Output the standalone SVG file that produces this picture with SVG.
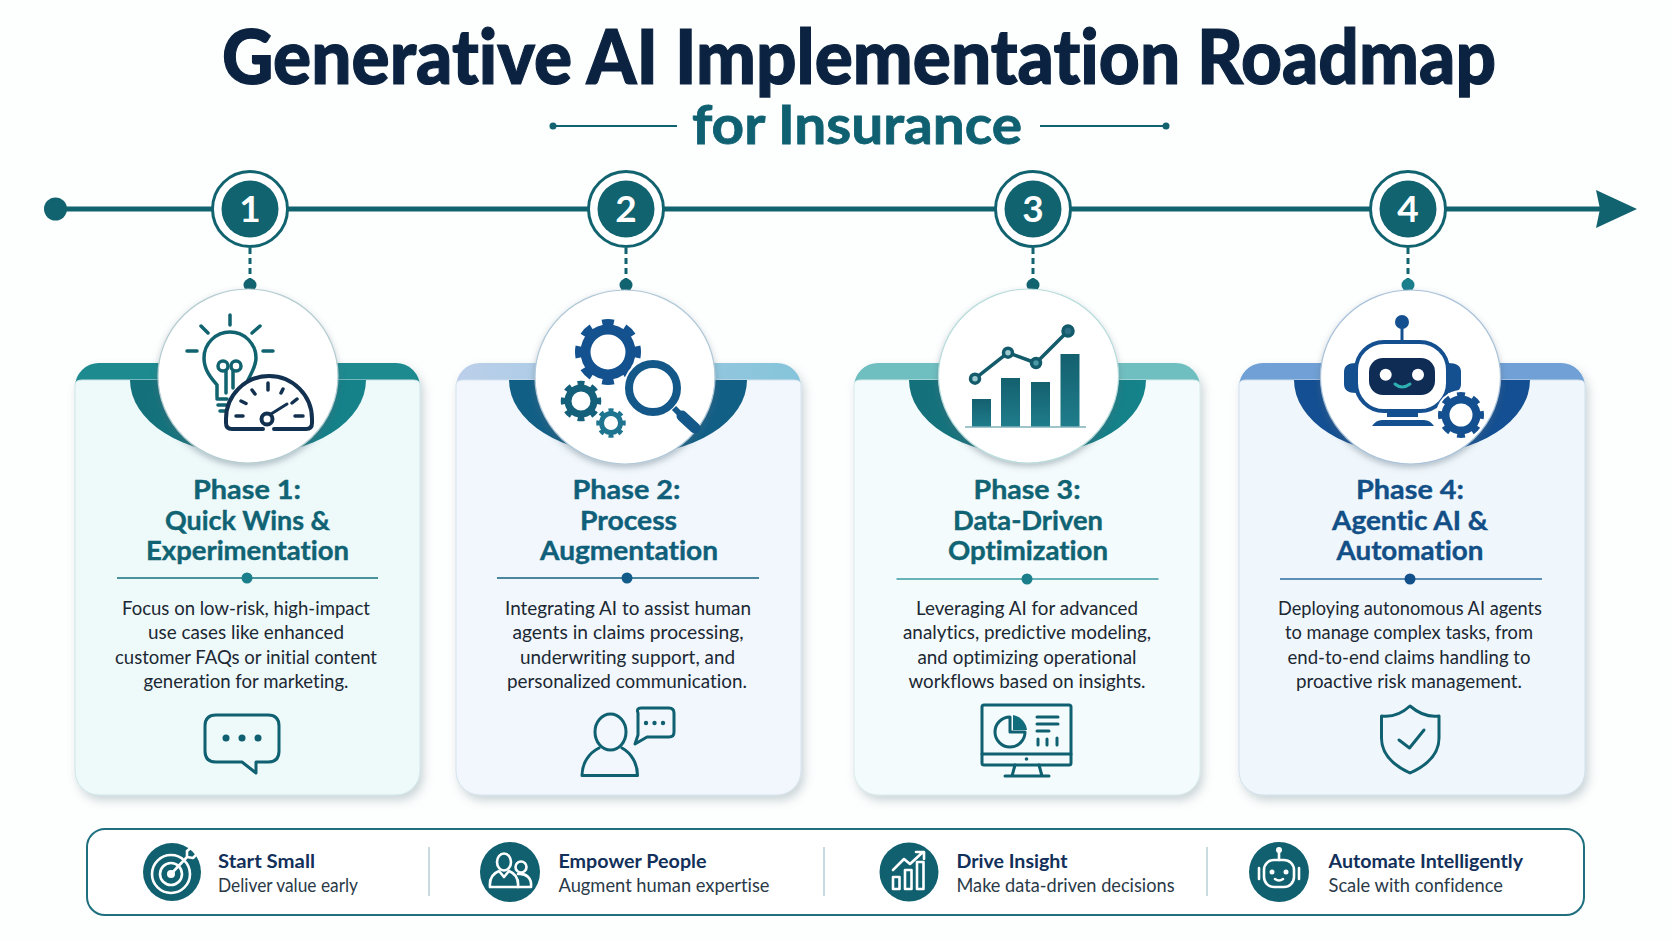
<svg xmlns="http://www.w3.org/2000/svg" width="1672" height="941" viewBox="0 0 1672 941">
<style>
text{font-family:"Lato","Liberation Sans",sans-serif;font-variant-ligatures:none}
.t{font-size:76px;font-weight:900;fill:#0b2340;stroke:#0b2340;stroke-width:1.200px;text-anchor:middle}
.st{font-size:54px;font-weight:700;fill:#0f6071;stroke:#0f6071;stroke-width:.8px;text-anchor:middle}
.n{font-size:37px;font-weight:700;fill:#fff;text-anchor:middle}
.h{font-size:27px;font-weight:700;stroke-width:.4px;text-anchor:middle}
.b{font-size:19.5px;fill:#1b2833;text-anchor:middle}
.k{font-size:19.5px;font-weight:700;fill:#12305a}
.s{font-size:19.5px;fill:#2a3a48}
.tl{stroke:#11636f;stroke-width:5;fill:none}
.dash{stroke:#11636f;stroke-width:3;stroke-dasharray:6 4;fill:none}
.ln{fill:none;stroke-linecap:round;stroke-linejoin:round}
.ic{fill:none;stroke:#0f6070;stroke-width:3;stroke-linecap:round;stroke-linejoin:round}
.w{fill:none;stroke:#fff;stroke-width:2.6;stroke-linecap:round;stroke-linejoin:round}
.card{filter:url(#sh)}
.disc{fill:#fff;stroke-width:1.2;filter:url(#sh2)}
.badge{fill:#11606f}
.dv{stroke:#b8ced6;stroke-width:1.5}
</style>
<defs>
<filter id="sh" x="-10%" y="-10%" width="120%" height="120%"><feDropShadow dx="3" dy="5" stdDeviation="5" flood-color="#6d8791" flood-opacity=".35"/></filter>
<filter id="sh2" x="-15%" y="-15%" width="130%" height="130%"><feDropShadow dx="0" dy="3" stdDeviation="3" flood-color="#567" flood-opacity=".4"/></filter>
<linearGradient id="b2" x1="0" x2="1" y1="0" y2="0"><stop offset="0" stop-color="#bccfea"/><stop offset="1" stop-color="#84c4da"/></linearGradient>
<linearGradient id="sw1" x1="0" x2="1" y1="0" y2="0"><stop offset="0" stop-color="#14707a"/><stop offset="1" stop-color="#15838a"/></linearGradient>
<linearGradient id="bar" x1="0" x2="0" y1="0" y2="1"><stop offset="0" stop-color="#14606f"/><stop offset="1" stop-color="#1f7d8b"/></linearGradient>
</defs>
<rect width="1672" height="941" fill="#fdfefe"/>

<g id="title">
<text class="t" x="859" y="84" textLength="1274" lengthAdjust="spacingAndGlyphs">Generative AI Implementation Roadmap</text>
<text class="st" x="857" y="144" textLength="330" lengthAdjust="spacingAndGlyphs">for Insurance</text>
<path d="M555 126H677M1040 126H1166" stroke="#11636f" stroke-width="2" fill="none"/>
<circle cx="553" cy="126" r="3.5" fill="#11636f"/><circle cx="1166" cy="126" r="3.5" fill="#11636f"/>
</g>

<g id="connectors">
<path class="tl" d="M56 209H1600"/>
<circle cx="55.500" cy="209" r="11.500" fill="#11636f"/>
<path d="M1596 190L1637 209L1596 228L1600 209Z" fill="#11636f"/>
<path class="dash" d="M250 248V282M626 248V282M1033 248V282M1408 248V282"/>
<circle cx="250" cy="285" r="6.500" fill="#11636f"/><circle cx="626" cy="285" r="6.500" fill="#11636f"/><circle cx="1033" cy="285" r="6.500" fill="#11636f"/><circle cx="1408" cy="285" r="6.500" fill="#1a7f8c"/>
</g>

<g id="marker-1"><circle cx="250" cy="209" r="37.500" fill="#fff" stroke="#11636f" stroke-width="3"/><circle cx="250" cy="209" r="28.500" fill="#11636f"/><text class="n" x="250" y="222">1</text></g>
<g id="marker-2"><circle cx="626" cy="209" r="37.500" fill="#fff" stroke="#11636f" stroke-width="3"/><circle cx="626" cy="209" r="28.500" fill="#11636f"/><text class="n" x="626" y="222">2</text></g>
<g id="marker-3"><circle cx="1033" cy="209" r="37.500" fill="#fff" stroke="#11636f" stroke-width="3"/><circle cx="1033" cy="209" r="28.500" fill="#11636f"/><text class="n" x="1033" y="222">3</text></g>
<g id="marker-4"><circle cx="1408" cy="209" r="37.500" fill="#fff" stroke="#11636f" stroke-width="3"/><circle cx="1408" cy="209" r="28.500" fill="#11636f"/><text class="n" x="1408" y="222">4</text></g>

<g id="phase-1">
<g class="card"><rect x="75" y="363" width="345" height="60" rx="24" fill="#1a8a8f"/>
<path d="M75 385Q75 380 82 380H413Q420 380 420 385V771A24 24 0 0 1 396 795H99A24 24 0 0 1 75 771Z" fill="#eef9fa" stroke="#cfe6e8"/></g>
<path d="M130 380H366A118 75 0 0 1 130 380Z" fill="url(#sw1)"/>
<ellipse class="disc" cx="248" cy="376" rx="90" ry="87" stroke="#b4ccd0"/>
<g class="ln" stroke="#11636f" stroke-width="3.500">
<path d="M230 315V325M201 326L208 333M260 326L252 333M187 351H197M263 351H273"/>
<path d="M217 397V385C211 378 204 370 204 358A26 26 0 0 1 256 358C256 366 252 372 248 380"/>
<circle cx="223" cy="366" r="5"/><circle cx="236" cy="366" r="5"/><path d="M226 371V393M233 371V388"/>
<path d="M217 399H227M218 405H226M220 411H225"/>
</g>
<path d="M226 428V419A43 43 0 0 1 312 419V428Z" fill="#fff"/>
<g class="ln" stroke="#12304f" stroke-width="4">
<path d="M263 429H232Q226 429 226 423V419A43 43 0 0 1 312 419V423Q312 429 306 429H274"/>
<path stroke-width="3.500" d="M236 416H243M241 401L246 403.500M252 390L255 394M268 383V390M283 389L281 393M297 399L292 403M303 416H295"/>
<circle cx="267" cy="419" r="5.500"/>
<path stroke-width="3" d="M271 414L287 404"/>
</g>
<text class="h" fill="#0f6373" stroke="#0f6373"><tspan x="247" y="499" textLength="108" lengthAdjust="spacingAndGlyphs">Phase 1:</tspan><tspan x="247.500" y="530" textLength="165" lengthAdjust="spacingAndGlyphs">Quick Wins &amp;</tspan><tspan x="247.500" y="560" textLength="203" lengthAdjust="spacingAndGlyphs">Experimentation</tspan></text>
<path d="M117 578H378" stroke="#13707c" stroke-width="1.500"/><circle cx="247" cy="578" r="5.500" fill="#1a7f8a"/>
<text class="b" x="246" y="615" textLength="248" lengthAdjust="spacingAndGlyphs">Focus on low-risk, high-impact</text>
<text class="b" x="246" y="639" textLength="196" lengthAdjust="spacingAndGlyphs">use cases like enhanced</text>
<text class="b" x="246" y="664" textLength="262" lengthAdjust="spacingAndGlyphs">customer FAQs or initial content</text>
<text class="b" x="246" y="688" textLength="205" lengthAdjust="spacingAndGlyphs">generation for marketing.</text>
<path class="ic" d="M216 715H268Q279 715 279 726V751Q279 762 268 762H256V773L242 762H216Q205 762 205 751V726Q205 715 216 715Z"/>
<g fill="#0f6070"><circle cx="226" cy="738" r="3.500"/><circle cx="242" cy="738" r="3.500"/><circle cx="258" cy="738" r="3.500"/></g>
</g>

<g id="phase-2">
<g class="card"><rect x="456" y="363" width="345" height="60" rx="24" fill="url(#b2)"/>
<path d="M456 385Q456 380 463 380H794Q801 380 801 385V771A24 24 0 0 1 777 795H480A24 24 0 0 1 456 771Z" fill="#f1f7fc" stroke="#d5e3ee"/></g>
<path d="M509 380H747A119 75 0 0 1 509 380Z" fill="#125f86"/>
<ellipse class="disc" cx="625" cy="377" rx="90" ry="87" stroke="#b0c8d8"/>
<g fill="none">
<circle cx="608" cy="352" r="22.500" stroke="#14528f" stroke-width="10"/>
<circle cx="608" cy="352" r="29.500" stroke="#14528f" stroke-width="7" pathLength="16" stroke-dasharray="1 1" stroke-dashoffset=".5"/>
<circle cx="581" cy="401" r="13" stroke="#14607a" stroke-width="7"/>
<circle cx="581" cy="401" r="17.500" stroke="#14607a" stroke-width="5.500" pathLength="16" stroke-dasharray="1 1" stroke-dashoffset=".5"/>
<circle cx="611" cy="423" r="9.500" stroke="#1f7590" stroke-width="5"/>
<circle cx="611" cy="423" r="12.500" stroke="#1f7590" stroke-width="4.500" pathLength="16" stroke-dasharray="1 1" stroke-dashoffset=".5"/>
<circle cx="653" cy="388" r="30" fill="#fff"/>
<circle cx="653" cy="388" r="24" fill="#fff" stroke="#14588a" stroke-width="8"/>
<path d="M674 408L682 416" stroke="#14588a" stroke-width="6"/>
<path d="M682 416L695 428" stroke="#14588a" stroke-width="11" stroke-linecap="round"/>
</g>
<text class="h" fill="#0f5f7a" stroke="#0f5f7a"><tspan x="626.500" y="499" textLength="108" lengthAdjust="spacingAndGlyphs">Phase 2:</tspan><tspan x="628.500" y="530" textLength="97" lengthAdjust="spacingAndGlyphs">Process</tspan><tspan x="629" y="560" textLength="178" lengthAdjust="spacingAndGlyphs">Augmentation</tspan></text>
<path d="M497 578H759" stroke="#13607c" stroke-width="1.500"/><circle cx="627" cy="578" r="5.500" fill="#135c8a"/>
<text class="b" x="628" y="615" textLength="246" lengthAdjust="spacingAndGlyphs">Integrating AI to assist human</text>
<text class="b" x="628" y="639" textLength="231" lengthAdjust="spacingAndGlyphs">agents in claims processing,</text>
<text class="b" x="627.500" y="664" textLength="215" lengthAdjust="spacingAndGlyphs">underwriting support, and</text>
<text class="b" x="627" y="688" textLength="240" lengthAdjust="spacingAndGlyphs">personalized communication.</text>
<ellipse class="ic" cx="610.500" cy="732" rx="15.500" ry="18"/>
<path class="ic" d="M599 748C589 753 582 763 582 775.500H637.500C637.500 763 631 753 622 748"/>
<path class="ic" stroke-width="2.600" d="M641 708H669Q674 708 674 713V732Q674 737 669 737H647L635 744L638 735V713Q636 708 641 708Z"/>
<g fill="#0f6070"><circle cx="646" cy="723" r="2.200"/><circle cx="654.500" cy="723" r="2.200"/><circle cx="663" cy="723" r="2.200"/></g>
</g>

<g id="phase-3">
<g class="card"><rect x="854" y="363" width="346" height="60" rx="24" fill="#6fbfc0"/>
<path d="M854 385Q854 380 861 380H1193Q1200 380 1200 385V771A24 24 0 0 1 1176 795H878A24 24 0 0 1 854 771Z" fill="#f4fbfc" stroke="#d8ebec"/></g>
<path d="M909 380H1146A118.500 75 0 0 1 909 380Z" fill="url(#sw1)"/>
<ellipse class="disc" cx="1028.500" cy="376" rx="90" ry="87" stroke="#b8dcdc"/>
<g fill="url(#bar)"><rect x="972" y="399" width="19" height="28"/><rect x="1001" y="378" width="19" height="49"/><rect x="1031" y="382" width="19" height="45"/><rect x="1060.500" y="354" width="19" height="73"/></g>
<path d="M965 427H1086" stroke="#7fb2b8" stroke-width="1.500"/>
<path class="ln" d="M975 378.700L1008 352.700L1036 363L1068 331" stroke="#135a6b" stroke-width="3.500"/>
<g stroke="#135a6b" stroke-width="3.500"><circle cx="975" cy="378.700" r="4.500" fill="#9cc9d0"/><circle cx="1008" cy="352.700" r="4.500" fill="#9cc9d0"/><circle cx="1036" cy="363" r="4.500" fill="#4b98a6"/><circle cx="1068" cy="331" r="5" fill="#2c6f85"/></g>
<text class="h" fill="#0f6373" stroke="#0f6373"><tspan x="1027" y="499" textLength="107" lengthAdjust="spacingAndGlyphs">Phase 3:</tspan><tspan x="1028" y="530" textLength="150" lengthAdjust="spacingAndGlyphs">Data-Driven</tspan><tspan x="1028" y="560" textLength="160" lengthAdjust="spacingAndGlyphs">Optimization</tspan></text>
<path d="M896.500 579H1158.500" stroke="#3b9aa0" stroke-width="1.500"/><circle cx="1027" cy="579" r="5.500" fill="#1a7f8a"/>
<text class="b" x="1027" y="615" textLength="222" lengthAdjust="spacingAndGlyphs">Leveraging AI for advanced</text>
<text class="b" x="1027" y="639" textLength="248" lengthAdjust="spacingAndGlyphs">analytics, predictive modeling,</text>
<text class="b" x="1027" y="664" textLength="219" lengthAdjust="spacingAndGlyphs">and optimizing operational</text>
<text class="b" x="1027" y="688" textLength="237" lengthAdjust="spacingAndGlyphs">workflows based on insights.</text>
<rect class="ic" x="982" y="705" width="89" height="60" rx="2"/>
<path class="ic" d="M982 754H1071M1015 765L1012 776M1039 765L1042 776M1005 776H1049"/>
<circle cx="1026.500" cy="759" r="1.800" fill="#0f6070"/>
<path class="ic" stroke-width="2.400" d="M1010 717A15 15 0 1 0 1025 732H1010Z"/>
<path d="M1013 715A17 17 0 0 1 1027 730H1013Z" fill="#0f6d7c"/>
<path class="ic" d="M1037 717H1058M1037 724H1058M1037 731H1049M1038 739V745M1047 739V745M1057 738V745"/>
</g>

<g id="phase-4">
<g class="card"><rect x="1239" y="363" width="346" height="60" rx="24" fill="#6fa0d6"/>
<path d="M1239 385Q1239 380 1246 380H1578Q1585 380 1585 385V771A24 24 0 0 1 1561 795H1263A24 24 0 0 1 1239 771Z" fill="#f0f7fc" stroke="#d0e0ec"/></g>
<path d="M1294 380H1530A118 75 0 0 1 1294 380Z" fill="#134f92"/>
<ellipse class="disc" cx="1410.500" cy="377" rx="90" ry="87" stroke="#a9c2da"/>
<path d="M1402 322V342" stroke="#144f8f" stroke-width="3"/>
<circle cx="1402" cy="322" r="7" fill="#144f8f"/>
<path d="M1344 372Q1344 363 1356 363V393Q1344 393 1344 384ZM1448 363Q1461 363 1461 372V384Q1461 393 1448 393Z" fill="#144f8f"/>
<rect x="1356" y="342" width="92" height="69" rx="28" fill="#fff" stroke="#144f8f" stroke-width="4"/>
<rect x="1369" y="358" width="66" height="37" rx="14" fill="#0f2c55"/>
<circle cx="1385.700" cy="374.700" r="6" fill="#fff"/><circle cx="1418" cy="374.700" r="6" fill="#fff"/>
<path class="ln" d="M1395 384Q1402 390 1410 384" stroke="#2fb0b0" stroke-width="3"/>
<rect x="1387" y="411" width="31" height="6" fill="#144f8f"/>
<path d="M1372 426Q1376 420 1382 420H1424Q1430 420 1434 426Z" fill="#144f8f"/>
<circle cx="1461" cy="415" r="25" fill="#fff"/>
<g fill="none"><circle cx="1461" cy="415" r="15.500" stroke="#14508f" stroke-width="8"/><circle cx="1461" cy="415" r="20" stroke="#14508f" stroke-width="6" pathLength="16" stroke-dasharray="1 1" stroke-dashoffset=".5"/></g>
<text class="h" fill="#124f87" stroke="#124f87"><tspan x="1410" y="499" textLength="108" lengthAdjust="spacingAndGlyphs">Phase 4:</tspan><tspan x="1410" y="530" textLength="156" lengthAdjust="spacingAndGlyphs">Agentic AI &amp;</tspan><tspan x="1410" y="560" textLength="147" lengthAdjust="spacingAndGlyphs">Automation</tspan></text>
<path d="M1280 579H1542" stroke="#2b6c9c" stroke-width="1.500"/><circle cx="1410" cy="579" r="5.500" fill="#12508c"/>
<text class="b" x="1410" y="615" textLength="264" lengthAdjust="spacingAndGlyphs">Deploying autonomous AI agents</text>
<text class="b" x="1409" y="639" textLength="248" lengthAdjust="spacingAndGlyphs">to manage complex tasks, from</text>
<text class="b" x="1409" y="664" textLength="243" lengthAdjust="spacingAndGlyphs">end-to-end claims handling to</text>
<text class="b" x="1409" y="688" textLength="226" lengthAdjust="spacingAndGlyphs">proactive risk management.</text>
<path class="ic" stroke-width="3.200" d="M1410 706Q1424 718 1439 716V738Q1439 760 1410 773Q1381.500 760 1381.500 738V716Q1397 718 1410 706Z"/>
<path class="ic" stroke-width="3.500" d="M1399 740L1409.500 748L1424 730"/>
</g>

<g id="summary">
<rect x="87" y="829" width="1497" height="86" rx="18" fill="#fff" stroke="#1f6f7f" stroke-width="2"/>
<path class="dv" d="M429 847V896M824 847V896M1207 847V896"/>
<g id="start-small"><circle class="badge" cx="172" cy="872" r="29"/>
<circle class="w" cx="171" cy="874" r="19" stroke-width="4"/><circle class="w" cx="171" cy="874" r="11" stroke-width="3.500"/><circle cx="171" cy="874" r="4" fill="#fff"/>
<path class="w" d="M171 874L187 857M187 857L187 851L193 846L194 851L199 852L193 858Z"/>
<text class="k" x="218" y="867.500" textLength="97" lengthAdjust="spacingAndGlyphs">Start Small</text>
<text class="s" x="218" y="891.500" textLength="140" lengthAdjust="spacingAndGlyphs">Deliver value early</text></g>
<g id="empower-people"><circle class="badge" cx="510" cy="872" r="30"/>
<ellipse class="w" cx="504" cy="862" rx="7" ry="8.500"/><path class="w" d="M490 887C489 877 494 873 499 871L504 877L509 871C514 873 519 877 518 887Z"/>
<circle class="w" cx="521" cy="867" r="5.500"/><path class="w" d="M518 874C526 873 532 878 531 887H518"/>
<text class="k" x="558.500" y="867.500" textLength="148" lengthAdjust="spacingAndGlyphs">Empower People</text>
<text class="s" x="558.500" y="891.500" textLength="211" lengthAdjust="spacingAndGlyphs">Augment human expertise</text></g>
<g id="drive-insight"><circle class="badge" cx="909" cy="872" r="29.500"/>
<path class="w" d="M893 870L904 859L910 864L923 852M916 852H924V859"/>
<rect class="w" x="893" y="877" width="6.500" height="12"/><rect class="w" x="905" y="870" width="6.500" height="19"/><rect class="w" x="917" y="862" width="6.500" height="27"/>
<text class="k" x="956.500" y="867.500" textLength="111" lengthAdjust="spacingAndGlyphs">Drive Insight</text>
<text class="s" x="956.500" y="891.500" textLength="218" lengthAdjust="spacingAndGlyphs">Make data-driven decisions</text></g>
<g id="automate-intelligently"><circle class="badge" cx="1279" cy="872" r="30"/>
<rect class="w" x="1264" y="860" width="30" height="27" rx="10"/>
<path class="w" d="M1279 860V852"/><circle cx="1279" cy="850" r="3" fill="#fff"/>
<path class="w" d="M1259 868V879M1299 868V879"/>
<circle cx="1272" cy="872" r="2.500" fill="#fff"/><circle cx="1286" cy="872" r="2.500" fill="#fff"/>
<path class="w" stroke-width="2" d="M1275 879Q1279 882 1283 879"/>
<text class="k" x="1328.500" y="867.500" textLength="194.500" lengthAdjust="spacingAndGlyphs">Automate Intelligently</text>
<text class="s" x="1328.500" y="891.500" textLength="174.500" lengthAdjust="spacingAndGlyphs">Scale with confidence</text></g>
</g>
</svg>
